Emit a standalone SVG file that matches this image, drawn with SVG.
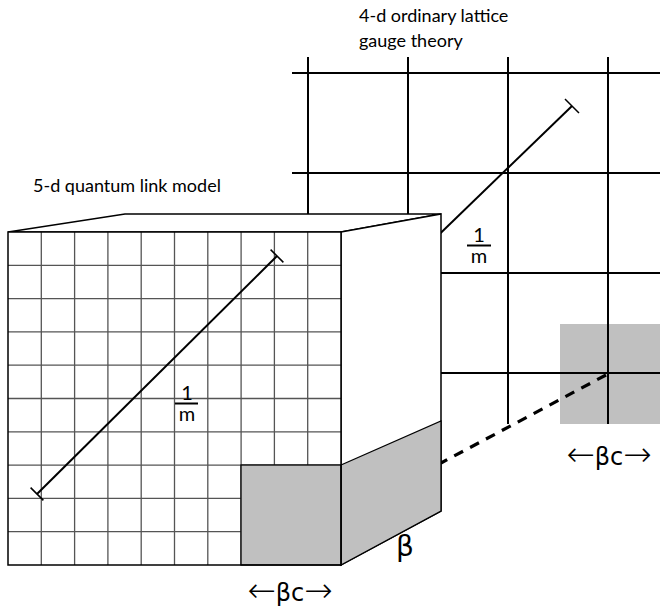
<svg xmlns="http://www.w3.org/2000/svg" width="660" height="612" viewBox="0 0 660 612">
<style>
.lbl{font-family:Lato,"Open Sans","Liberation Sans",sans-serif;fill:#000}
.sym{font-family:"DejaVu Sans","Liberation Sans",sans-serif;fill:#000}
.arr{font-family:"DejaVu Sans",sans-serif;font-size:34px;font-weight:200}
.lat{stroke:#000;stroke-width:2;fill:none}
.edge{stroke:#000;stroke-width:1.5;fill:#fff;stroke-linejoin:miter}
.grid{stroke:#555;stroke-width:1.3;fill:none}
.shade{fill:#c0c0c0;stroke:#000;stroke-width:1.3}
.diag{stroke:#000;stroke-width:2;fill:none}
.tick{stroke:#000;stroke-width:1.5;fill:none}
.dash{stroke:#000;stroke-width:3.2;stroke-dasharray:10 8;fill:none}
</style>

<g id="ordinary-lattice">
  <rect x="560" y="324" width="100" height="100" fill="#c0c0c0"/>
  <path class="lat" d="M292 73H660M292 173H660M441 273H660M441 373H660M308 57V230M408 57V230M508 57V424M608 57V424"/>
  <path class="diag" d="M420 253L572 106"/>
  <path class="tick" d="M565 99L579 113"/>
  <text class="lbl" x="359" y="22" font-size="18">4-d ordinary lattice</text>
  <text class="lbl" x="359" y="47" font-size="18">gauge theory</text>
  <text class="sym" x="609" y="465" font-size="24" text-anchor="middle"><tspan class="arr" dy="1">←</tspan><tspan dy="-1">βc</tspan><tspan class="arr" dy="1">→</tspan></text>
</g>

<g id="connectors">
  <path class="dash" d="M606 375L441 463"/>
</g>

<g id="quantum-link-cube">
  <polygon class="edge" points="8,232 125,214 441,214 341,232"/>
  <polygon class="edge" points="341,232 441,214 441,511 341,565"/>
  <polygon class="shade" points="341,465 441,421 441,511 341,565"/>
  <rect x="8" y="232" width="333" height="333" fill="#fff"/>
  <path class="grid" d="M41.3 232V565M74.6 232V565M107.9 232V565M141.2 232V565M174.5 232V565M207.8 232V565M241.1 232V565M274.4 232V565M307.7 232V565M8 265.3H341M8 298.6H341M8 331.9H341M8 365.2H341M8 398.5H341M8 431.8H341M8 465.1H341M8 498.4H341M8 531.7H341"/>
  <rect class="shade" x="241" y="465" width="100" height="100"/>
  <rect x="8" y="232" width="333" height="333" fill="none" stroke="#000" stroke-width="1.5"/>
  <path class="diag" d="M37 494L277 256"/>
  <path class="tick" d="M30.6 487.6L43.4 500.4M270.6 249.6L283.4 262.4"/>
  <text class="lbl" x="33" y="192" font-size="18">5-d quantum link model</text>
  <text class="sym" x="405" y="556" font-size="28" text-anchor="middle">β</text>
  <text class="sym" x="290" y="601" font-size="24" text-anchor="middle"><tspan class="arr" dy="1">←</tspan><tspan dy="-1">βc</tspan><tspan class="arr" dy="1">→</tspan></text>
</g>

<g id="length-front">
  <text class="lbl" x="187" y="400" font-size="20" text-anchor="middle">1</text>
  <path d="M175 403.5H198" stroke="#000" stroke-width="2"/>
  <text class="lbl" x="187" y="421" font-size="20" text-anchor="middle">m</text>
</g>

<g id="length-back">
  <text class="lbl" x="479" y="242" font-size="20" text-anchor="middle">1</text>
  <path d="M467 245.5H491" stroke="#000" stroke-width="2"/>
  <text class="lbl" x="479" y="263" font-size="20" text-anchor="middle">m</text>
</g>
</svg>
